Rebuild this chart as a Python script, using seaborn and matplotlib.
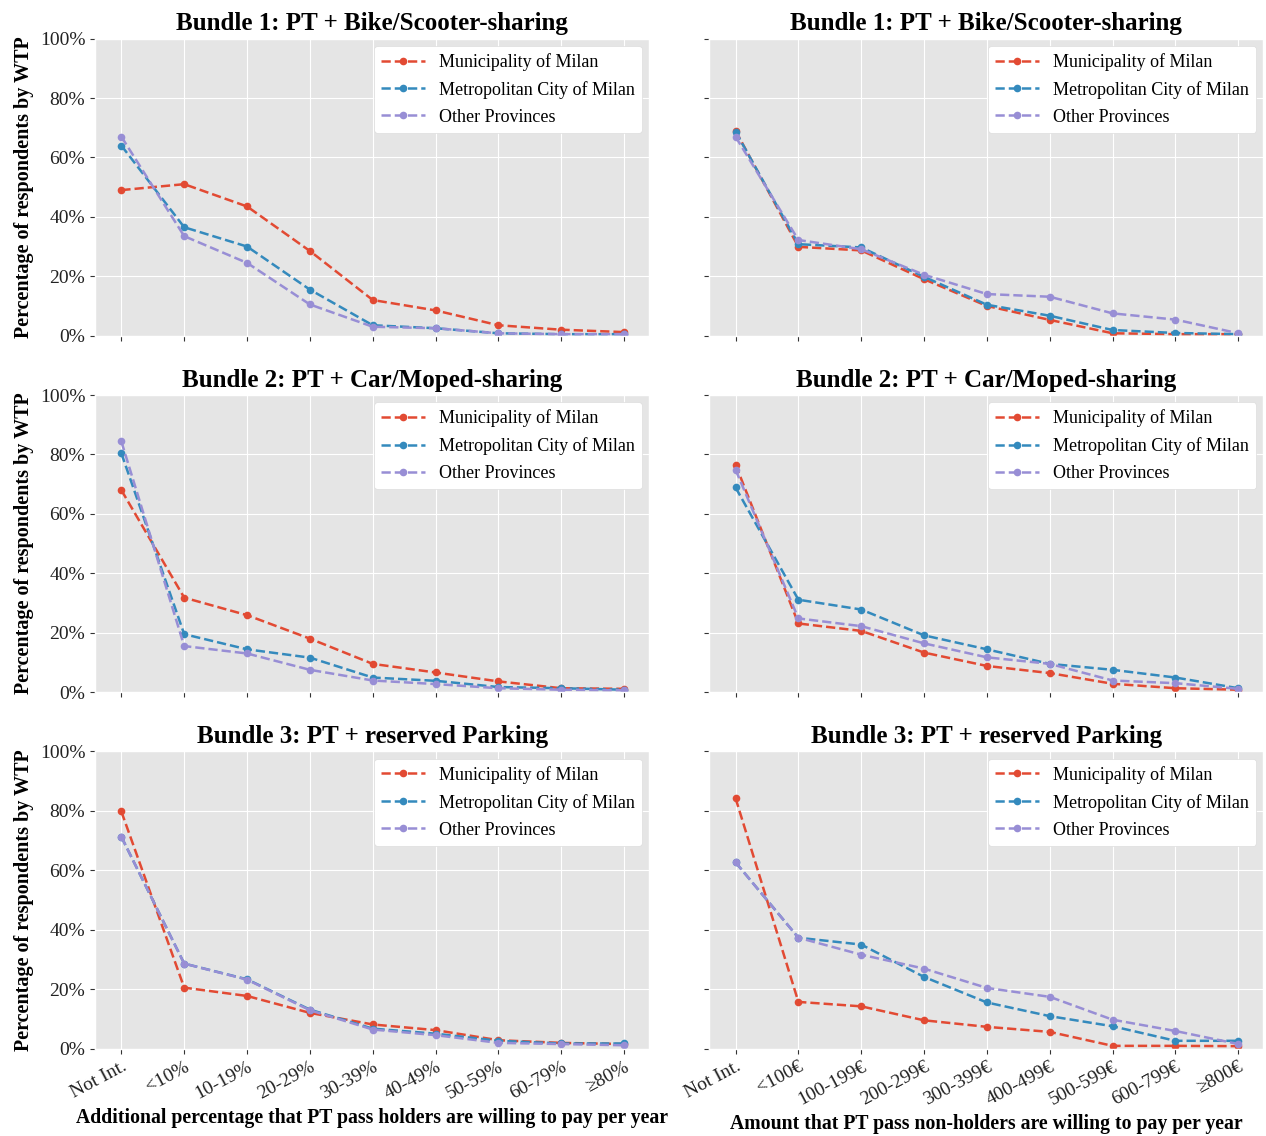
import pandas as pd
import matplotlib.pyplot as plt
import seaborn as sns
from matplotlib.ticker import PercentFormatter

# categories
holders_cats = ['Not Int.', '<10%', '10-19%', '20-29%', '30-39%', '40-49%',
                '50-59%', '60-79%', '≥80%']
nonholders_cats = ['Not Int.', '<100€', '100-199€', '200-299€', '300-399€',
                   '400-499€', '500-599€', '600-799€', '≥800€']
regions = ['Municipality of Milan', 'Metropolitan City of Milan', 'Other Provinces']
titles = ['Bundle 1: PT + Bike/Scooter-sharing',
          'Bundle 2: PT + Car/Moped-sharing',
          'Bundle 3: PT + reserved Parking']

# bundle 1, pass holders (left) / non-holders (right)
b1_hold_muni = [49, 51, 43.5, 28.5, 12, 8.5, 3.5, 2, 1.2]
b1_hold_metro = [64, 36.5, 30, 15.5, 3.5, 2.5, 0.8, 0.5, 0.5]
b1_hold_other = [67, 33.5, 24.5, 10.5, 3, 2.5, 0.8, 0.5, 0.5]
b1_non_muni = [69, 29.9, 28.7, 19, 10, 5.3, 0.8, 0.5, 0.5]
b1_non_metro = [68.7, 30.8, 29.7, 19.8, 10.4, 6.7, 1.9, 0.9, 0.5]
b1_non_other = [67, 32.2, 29.1, 20.5, 14, 13.1, 7.5, 5.4, 0.8]

# bundle 2
b2_hold_muni = [68, 31.8, 25.9, 18, 9.5, 6.6, 3.6, 1.3, 1.1]
b2_hold_metro = [80.4, 19.5, 14.4, 11.6, 4.9, 3.8, 1.7, 1.3, 0.8]
b2_hold_other = [84.4, 15.5, 13, 7.5, 3.9, 2.7, 1.3, 0.8, 0.6]
b2_non_muni = [76.6, 23.1, 20.6, 13.3, 8.8, 6.4, 2.8, 1.3, 0.8]
b2_non_metro = [68.9, 31.1, 27.8, 19.1, 14.4, 9.5, 7.5, 4.9, 1.3]
b2_non_other = [74.9, 24.8, 22.2, 16.4, 11.7, 9.5, 3.9, 3, 1.1]

# bundle 3
b3_hold_muni = [79.8, 20.5, 17.7, 12, 8.1, 6.2, 2.8, 1.9, 1.5]
b3_hold_metro = [71.3, 28.6, 23.3, 13.1, 6.7, 5, 2.6, 1.7, 1.7]
b3_hold_other = [71.3, 28.6, 23.2, 12.9, 6.4, 4.5, 1.9, 1.5, 1.1]
b3_non_muni = [84.3, 15.7, 14.2, 9.5, 7.3, 5.6, 0.9, 0.9, 0.8]
b3_non_metro = [62.7, 37.3, 35, 24.1, 15.5, 10.9, 7.5, 2.6, 2.6]
b3_non_other = [62.7, 37.3, 31.6, 26.9, 20.4, 17.4, 9.7, 5.9, 1.5]

panels = [
    [(b1_hold_muni, b1_hold_metro, b1_hold_other), (b1_non_muni, b1_non_metro, b1_non_other)],
    [(b2_hold_muni, b2_hold_metro, b2_hold_other), (b2_non_muni, b2_non_metro, b2_non_other)],
    [(b3_hold_muni, b3_hold_metro, b3_hold_other), (b3_non_muni, b3_non_metro, b3_non_other)],
]

plt.style.use('ggplot')
plt.rcParams['font.family'] = ['Liberation Serif', 'DejaVu Serif']
plt.rcParams['xtick.color'] = '#333333'
plt.rcParams['ytick.color'] = '#333333'
plt.rcParams['xtick.labelcolor'] = '#222222'
plt.rcParams['ytick.labelcolor'] = '#222222'

colors = ['#E24A33', '#348ABD', '#988ED5']

fig, axes = plt.subplots(3, 2, figsize=(12.66, 11.36), dpi=100, sharey='row')
fig.subplots_adjust(left=0.075, right=0.998, top=0.966, bottom=0.077,
                    wspace=0.108, hspace=0.2)

for r in range(3):
    for c in range(2):
        ax = axes[r, c]
        cats = holders_cats if c == 0 else nonholders_cats
        rows = []
        for reg, vals in zip(regions, panels[r][c]):
            for i, v in enumerate(vals):
                rows.append({'pos': i, 'value': v, 'region': reg})
        df = pd.DataFrame(rows)
        sns.lineplot(data=df, x='pos', y='value', hue='region', hue_order=regions,
                     palette=colors, marker='o', markersize=5.5, markeredgewidth=0,
                     linestyle='--', linewidth=1.8, ax=ax, legend=False)
        ax.set_xlim(-0.42, 8.4)
        ax.set_ylim(0, 100)
        ax.set_yticks([0, 20, 40, 60, 80, 100])
        ax.yaxis.set_major_formatter(PercentFormatter(decimals=0))
        ax.set_xticks(range(len(cats)))
        if r == 2:
            ax.set_xticklabels(cats, rotation=28, ha='right', fontsize=14,
                               rotation_mode='anchor')
        else:
            ax.set_xticklabels([])
        ax.tick_params(axis='y', labelsize=14)
        ax.set_title(titles[r], fontsize=18, fontweight='bold', color='black', pad=6)
        ax.set_xlabel('')
        if c == 0:
            ax.set_ylabel('Percentage of respondents by WTP', fontsize=14.5,
                          fontweight='bold', color='black', labelpad=4)
        else:
            ax.set_ylabel('')
        ax.legend(ax.lines[:3], regions, loc='upper right', fontsize=13,
                  facecolor='white', framealpha=1, edgecolor='#dddddd',
                  handlelength=2.4, borderaxespad=0.4, labelspacing=0.55)

axes[2, 0].set_xlabel('Additional percentage that PT pass holders are willing to pay per year',
                      fontsize=14.2, fontweight='bold', color='black', labelpad=4)
axes[2, 1].set_xlabel('Amount that PT pass non-holders are willing to pay per year',
                      fontsize=14.2, fontweight='bold', color='black', labelpad=4)

plt.savefig('out.png', dpi=100)
